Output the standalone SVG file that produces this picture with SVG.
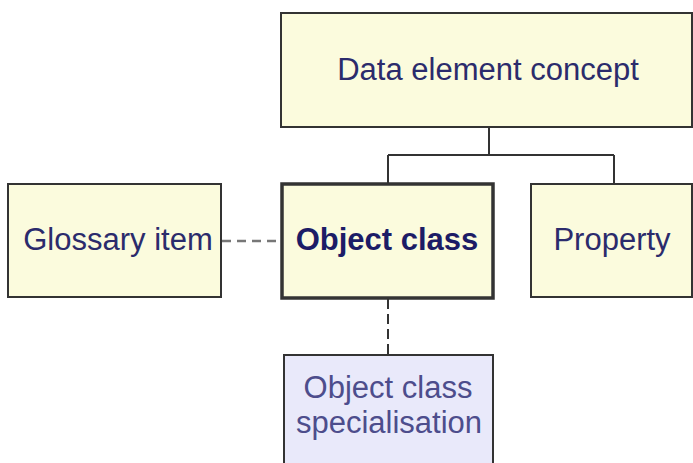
<svg xmlns="http://www.w3.org/2000/svg" width="693" height="463" viewBox="0 0 693 463">
<style>
.box{fill:#fbfbdd;stroke:#333333;stroke-width:2}
.bold{stroke-width:3.5}
.spec{fill:#e9e9fa;stroke:#333333;stroke-width:2}
.t{font-family:"Liberation Sans",Arial,sans-serif;font-size:31px;fill:#2b2b6c;text-anchor:middle}
.tb{font-weight:bold;fill:#1c1c66}
.ts{fill:#4d4d8c}
.line{fill:none;stroke:#333333;stroke-width:2}
.dash{fill:none;stroke:#777777;stroke-width:2.5;stroke-dasharray:9 6}
.dash2{fill:none;stroke:#333333;stroke-width:2;stroke-dasharray:10 5}
</style>
<rect width="693" height="463" fill="#ffffff"/>
<g id="connectors">
<path class="line" d="M489,127 V155 M388,155 H614 M388,155 V184 M614,155 V184"/>
<path class="dash" d="M222,241 H281"/>
<path class="dash2" d="M388,299 V355"/>
</g>
<g id="data-element-concept">
<rect class="box" x="281" y="13" width="411" height="114"/>
<text class="t" x="488" y="80">Data element concept</text>
</g>
<g id="glossary-item">
<rect class="box" x="8" y="184" width="213" height="113"/>
<text class="t" x="118" y="250">Glossary item</text>
</g>
<g id="object-class">
<rect class="box bold" x="282" y="184" width="211" height="114"/>
<text class="t tb" x="387" y="250">Object class</text>
</g>
<g id="property">
<rect class="box" x="531" y="184" width="161" height="113"/>
<text class="t" x="612" y="250">Property</text>
</g>
<g id="object-class-specialisation">
<rect class="spec" x="284" y="355" width="209" height="130"/>
<text class="t ts" x="388" y="398">Object class</text>
<text class="t ts" x="389" y="433">specialisation</text>
</g>
</svg>
